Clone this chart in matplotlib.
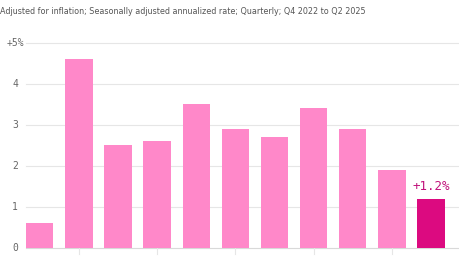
import matplotlib.pyplot as plt
import numpy as np

# real GDP growth, quarterly, Q4 2022 .. Q2 2025
quarters = ['Q4 2022', 'Q1 2023', 'Q2 2023', 'Q3 2023', 'Q4 2023', 'Q1 2024',
            'Q2 2024', 'Q3 2024', 'Q4 2024', 'Q1 2025', 'Q2 2025']
growth = [0.6, 4.6, 2.5, 2.6, 3.5, 2.9, 2.7, 3.4, 2.9, 1.9, 1.2]
ytick_vals = [0, 1, 2, 3, 4, 5]
ytick_labels = ['0', '1', '2', '3', '4', '+5%']

light_pink = '#ff88c9'
dark_pink = '#dc0a80'
grid_col = '#e6e6e6'
text_col = '#666666'

fig = plt.figure(figsize=(4.6, 2.59), dpi=100)
ax = fig.add_axes([26 / 460, 11 / 259, 434 / 460, (248 - 42.7) / 259 / 5.0 * 5.02])

x = np.arange(len(growth))
colors = [light_pink] * (len(growth) - 1) + [dark_pink]
ax.bar(x, growth, width=0.7, color=colors, zorder=2)

ax.set_xlim(-0.35, 10.74)
ax.set_ylim(0, 5.02)

# gridlines
for v in ytick_vals:
    ax.axhline(v, color='#d9d9d9' if v == 0 else grid_col, lw=0.8, zorder=1, clip_on=False)

# y labels, digits centred at x~15px
for v, lab in zip(ytick_vals, ytick_labels):
    ax.annotate(lab, xy=(0, v), xycoords=('axes fraction', 'data'),
                xytext=(-11 * 0.72, 0), textcoords='offset points',
                ha='center', va='center', fontsize=7, color=text_col,
                family='DejaVu Sans Mono')

# small ticks under baseline, every other quarter
for i in x[1::2]:
    ax.plot([i, i], [0, -0.14], color=grid_col, lw=0.8, clip_on=False, zorder=1)

# label on the latest bar
ax.text(x[-1], growth[-1] + 0.15, '+%.1f%%' % growth[-1], ha='center', va='bottom',
        fontsize=9, color='#c0117a', family='DejaVu Sans Mono')

ax.set_xticks([])
ax.set_yticks([])
for s in ax.spines.values():
    s.set_visible(False)

fig.text(0.0, 1 - 12 / 259, 'Adjusted for inflation; Seasonally adjusted annualized rate; Quarterly; Q4 2022 to Q2 2025',
         ha='left', va='center', fontsize=5.8, color='#555555')

fig.savefig('out.png', dpi=100)
